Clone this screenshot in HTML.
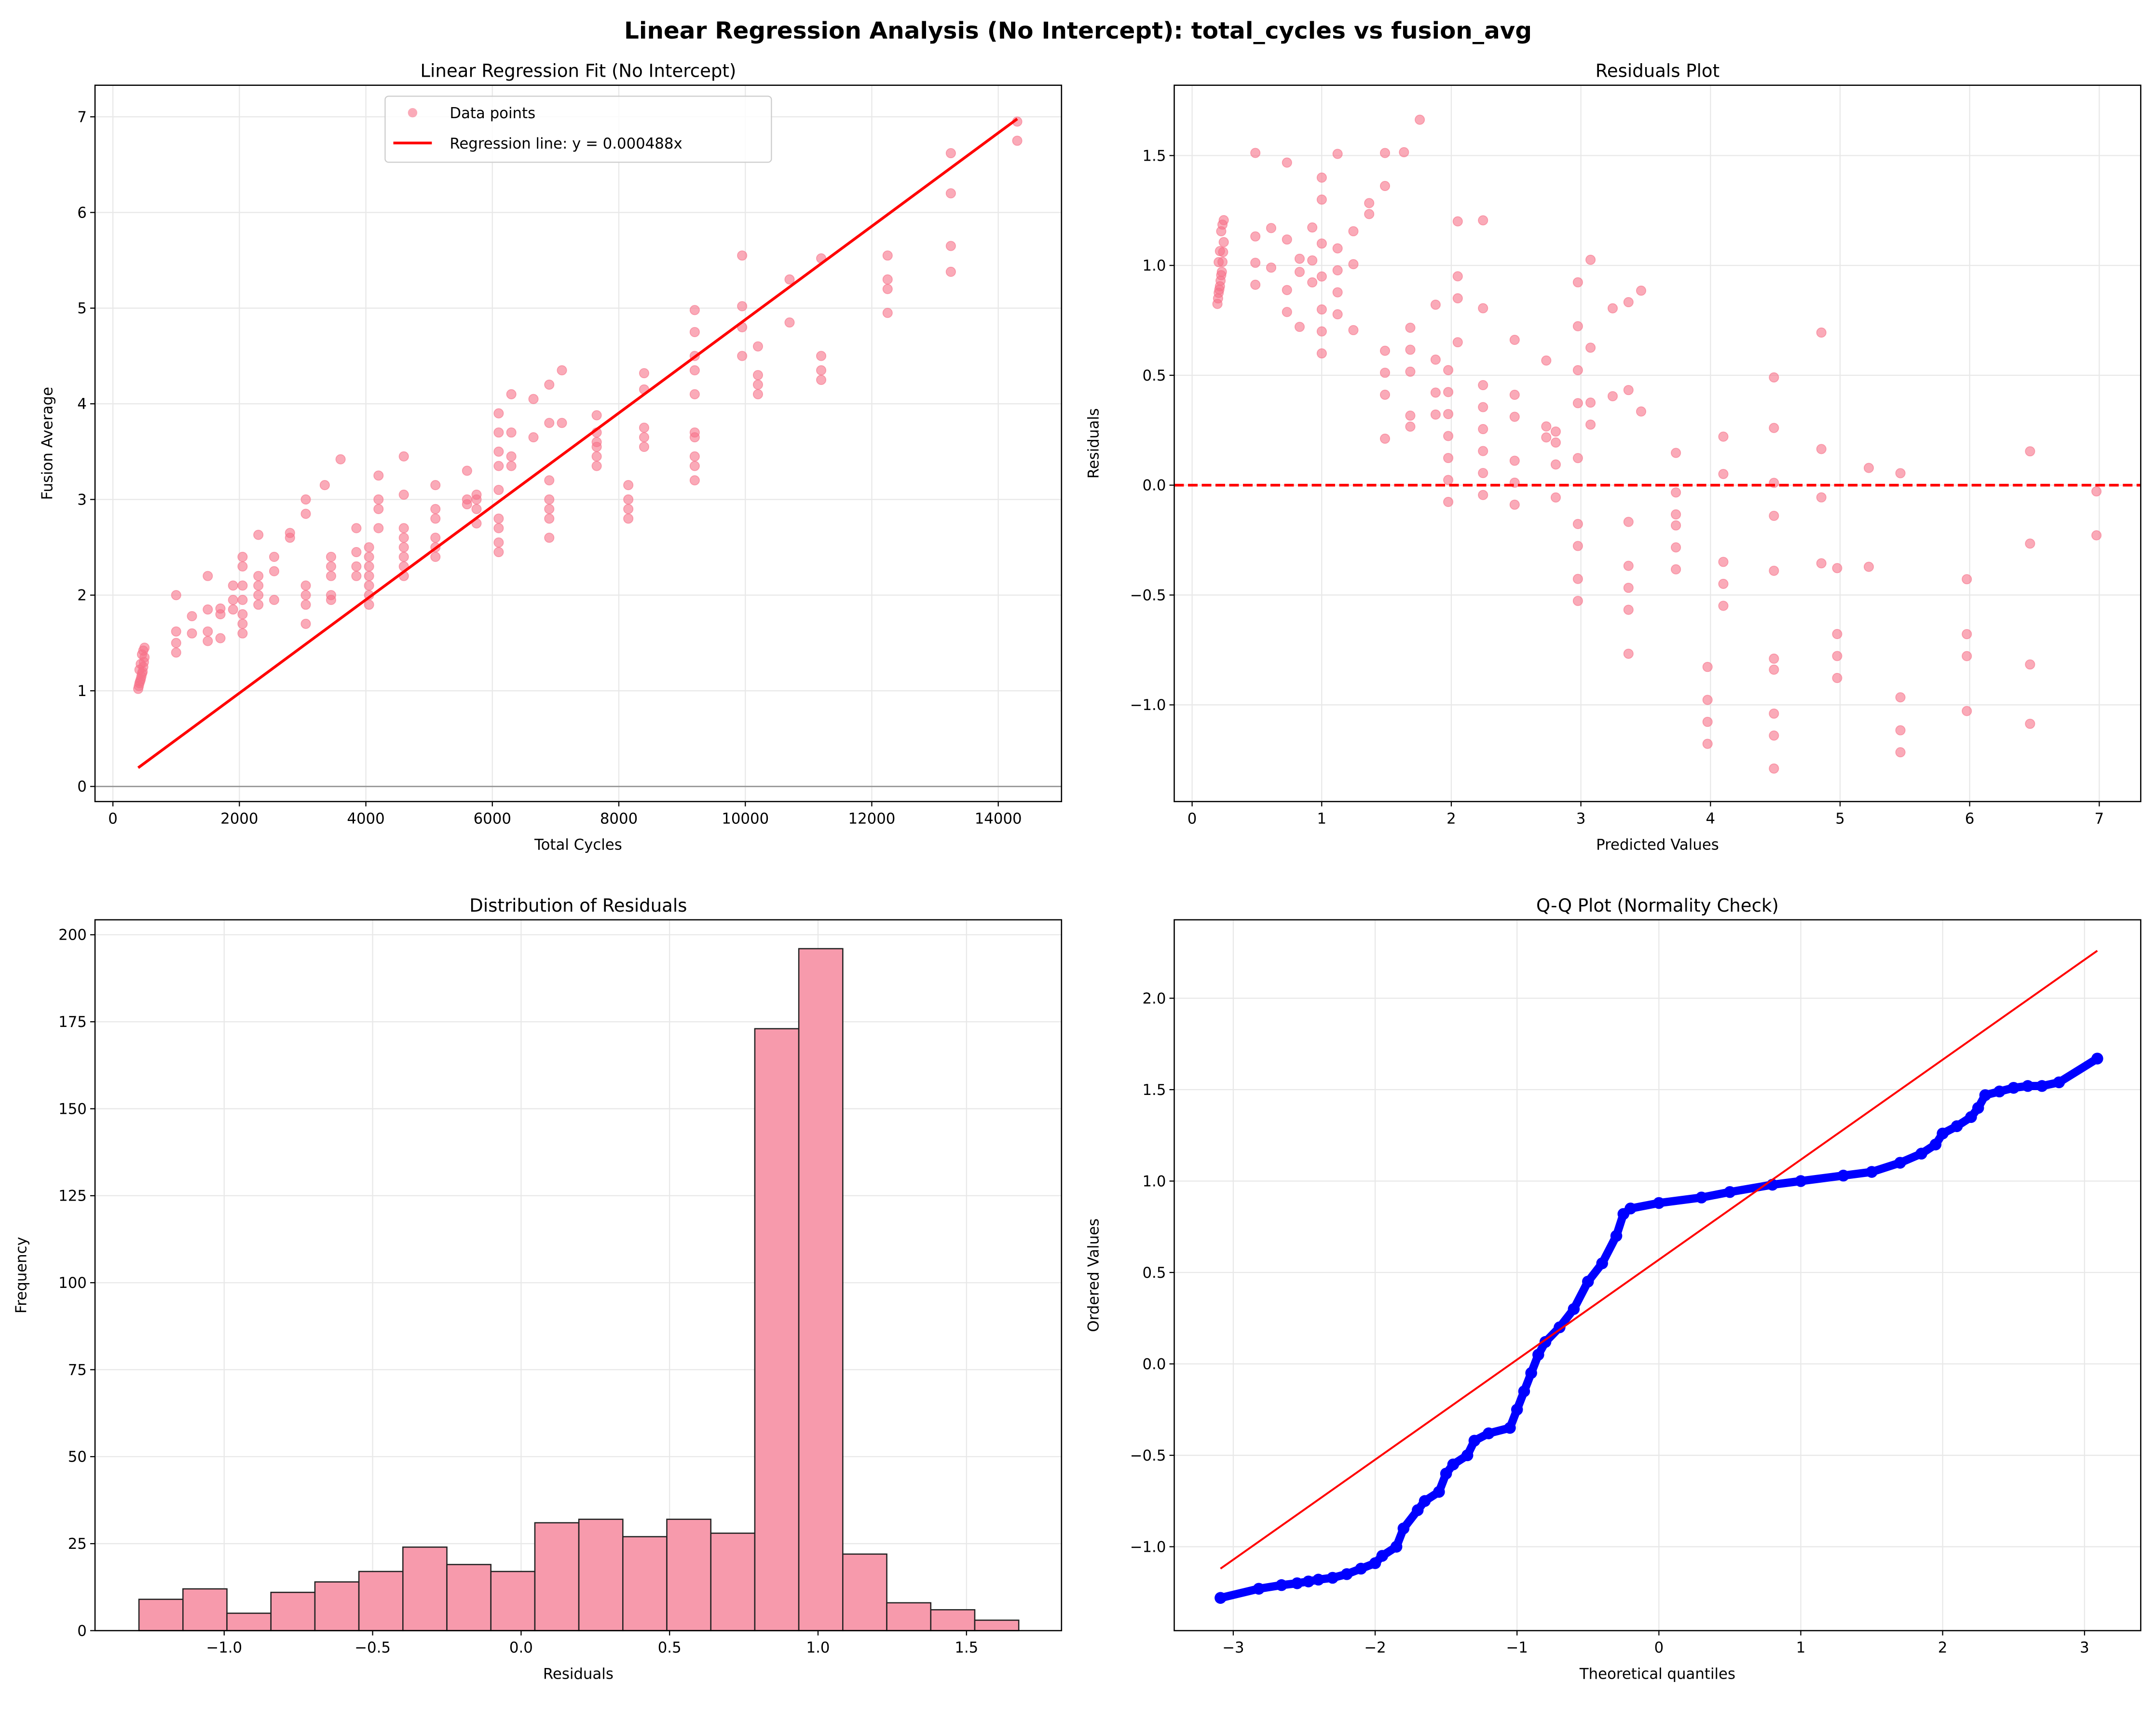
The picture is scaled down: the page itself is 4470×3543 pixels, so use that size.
<!DOCTYPE html>
<html><head><meta charset="utf-8">
<style>
html,body{margin:0;padding:0;background:#fff;}
svg{display:block;font-family:"DejaVu Sans","Liberation Sans",sans-serif;}
</style></head>
<body>
<svg id="fig" width="4470" height="3543" viewBox="0 0 1568 1243" xmlns="http://www.w3.org/2000/svg">
<rect x="0" y="0" width="1568" height="1243" fill="#fff"/>
<text x="784" y="28" text-anchor="middle" font-size="17" font-weight="bold">Linear Regression Analysis (No Intercept): total_cycles vs fusion_avg</text>
</svg>
<script>
// ---------- data ----------
const cycleValues = [400,410,420,430,440,450,460,470,480,490,500,420,440,460,480,500,
 1000,1000,1000,1000,1250,1250,1500,1500,1500,1500,1700,1700,1700,1900,1900,1900,
 2050,2050,2050,2050,2050,2050,2050,2300,2300,2300,2300,2300,2550,2550,2550,2800,2800,
 3050,3050,3050,3050,3050,3050,3350,3450,3450,3450,3450,3450,3600,3850,3850,3850,3850,
 4050,4050,4050,4050,4050,4050,4050,4200,4200,4200,4200,4600,4600,4600,4600,4600,4600,4600,4600,
 5100,5100,5100,5100,5100,5100,5600,5600,5600,5750,5750,5750,5750,
 6100,6100,6100,6100,6100,6100,6100,6100,6100,6300,6300,6300,6300,6650,6650,
 6900,6900,6900,6900,6900,6900,6900,7100,7100,7650,7650,7650,7650,7650,7650,
 8150,8150,8150,8150,8400,8400,8400,8400,8400,
 9200,9200,9200,9200,9200,9200,9200,9200,9200,9200,9950,9950,9950,9950,10200,10200,10200,10200,
 10700,10700,11200,11200,11200,11200,12250,12250,12250,12250,13250,13250,13250,13250,14300,14300];
const fusionValues = [1.02,1.05,1.08,1.1,1.12,1.15,1.18,1.2,1.25,1.3,1.35,1.22,1.28,1.38,1.42,1.45,
 1.4,1.5,1.62,2.0,1.6,1.78,1.52,1.62,1.85,2.2,1.55,1.8,1.86,1.85,1.95,2.1,
 1.6,1.7,1.8,1.95,2.1,2.3,2.4,1.9,2.0,2.1,2.2,2.63,1.95,2.25,2.4,2.6,2.65,
 1.7,1.9,2.0,2.1,2.85,3.0,3.15,1.95,2.0,2.2,2.3,2.4,3.42,2.2,2.3,2.45,2.7,
 1.9,2.0,2.1,2.2,2.3,2.4,2.5,2.7,2.9,3.0,3.25,2.2,2.3,2.4,2.5,2.6,2.7,3.05,3.45,
 2.4,2.5,2.6,2.8,2.9,3.15,2.95,3.0,3.3,2.75,2.9,3.0,3.05,
 2.45,2.55,2.7,2.8,3.1,3.35,3.5,3.7,3.9,3.35,3.45,3.7,4.1,3.65,4.05,
 2.6,2.8,2.9,3.0,3.2,3.8,4.2,3.8,4.35,3.35,3.45,3.55,3.6,3.7,3.88,
 2.8,2.9,3.0,3.15,3.55,3.65,3.75,4.15,4.32,
 3.2,3.35,3.45,3.65,3.7,4.1,4.35,4.5,4.75,4.98,4.5,4.8,5.02,5.55,4.1,4.2,4.3,4.6,
 4.85,5.3,4.25,4.35,4.5,5.52,4.95,5.2,5.3,5.55,5.38,5.65,6.2,6.62,6.75,6.95];
const slope = 0.000488;
const histCounts = [9,12,5,11,14,17,24,19,17,31,32,27,32,28,173,196,22,8,6,3];
const histMin = -1.287, histMax = 1.676;
const qqTheoretical = [-3.09,-2.82,-2.66,-2.55,-2.47,-2.40,-2.3,-2.2,-2.1,-2.0,-1.95,-1.85,-1.8,-1.7,-1.65,-1.55,-1.5,-1.45,-1.35,-1.3,-1.2,-1.05,-1.0,-0.95,-0.9,-0.85,-0.8,-0.7,-0.6,-0.5,-0.4,-0.3,-0.25,-0.2,0,0.3,0.5,0.8,1.0,1.3,1.5,1.7,1.85,1.95,2.0,2.1,2.2,2.25,2.3,2.4,2.5,2.6,2.7,2.82,3.09];
const qqOrdered = [-1.28,-1.23,-1.21,-1.20,-1.19,-1.18,-1.17,-1.15,-1.12,-1.09,-1.05,-1.0,-0.9,-0.8,-0.75,-0.7,-0.6,-0.55,-0.5,-0.42,-0.38,-0.35,-0.25,-0.15,-0.05,0.05,0.12,0.2,0.3,0.45,0.55,0.7,0.82,0.85,0.88,0.91,0.94,0.98,1.0,1.03,1.05,1.1,1.15,1.2,1.26,1.3,1.35,1.4,1.47,1.49,1.51,1.52,1.52,1.54,1.67];
const qqLineX = [-3.09,3.09];
const qqLineY = [-1.12,2.26];
const ticks1X = [0,2000,4000,6000,8000,10000,12000,14000];
const ticks1Y = [0,1,2,3,4,5,6,7];
const ticks2X = [0,1,2,3,4,5,6,7];
const ticks2Y = [-1.0,-0.5,0.0,0.5,1.0,1.5];
const ticks3X = [-1.0,-0.5,0.0,0.5,1.0,1.5];
const ticks3Y = [0,25,50,75,100,125,150,175,200];
const ticks4X = [-3,-2,-1,0,1,2,3];
const ticks4Y = [-1.0,-0.5,0.0,0.5,1.0,1.5,2.0];

// ---------- helpers ----------
const NS = "http://www.w3.org/2000/svg";
const svg = document.getElementById('fig');
const TF = 10.8;
function mk(tag, attrs, parent){
  const e = document.createElementNS(NS, tag);
  for (const k in attrs) e.setAttribute(k, attrs[k]);
  (parent||svg).appendChild(e);
  return e;
}
function fmt(v, dec){ const s = v.toFixed(dec); return s.replace('-', '\u2212'); }

function makeAxes(name, box, xd, yd, xt, yt, xdec, ydec, title, xlabel, ylabel, ylabX){
  const g = mk('g', {});
  
  
  const sx = v => box.x0 + (v - xd[0]) / (xd[1] - xd[0]) * (box.x1 - box.x0);
  const sy = v => box.y1 - (v - yd[0]) / (yd[1] - yd[0]) * (box.y1 - box.y0);
  xt.forEach(t => {
    const gl = mk('line', {x1:sx(t), x2:sx(t), y1:box.y0, y2:box.y1, stroke:'#e8e8e8', 'stroke-width':0.8}, g);
    
    
    const tk = mk('line', {x1:sx(t), x2:sx(t), y1:box.y1, y2:box.y1+3.5, stroke:'#000', 'stroke-width':0.8}, g);
    
    
    const tl = mk('text', {x:sx(t), y:box.y1+16, 'text-anchor':'middle', 'font-size':TF}, g);
    tl.textContent = fmt(t, xdec);
    
    
  });
  yt.forEach(t => {
    const gl = mk('line', {x1:box.x0, x2:box.x1, y1:sy(t), y2:sy(t), stroke:'#e8e8e8', 'stroke-width':0.8}, g);
    
    
    const tk = mk('line', {x1:box.x0-3.5, x2:box.x0, y1:sy(t), y2:sy(t), stroke:'#000', 'stroke-width':0.8}, g);
    
    
    const tl = mk('text', {x:box.x0-6, y:sy(t)+3.8, 'text-anchor':'end', 'font-size':TF}, g);
    tl.textContent = fmt(t, ydec);
    
    
  });
  const tt = mk('text', {x:(box.x0+box.x1)/2, y:box.y0-6, 'text-anchor':'middle', 'font-size':13}, g);
  tt.textContent = title;
  
  
  const xl = mk('text', {x:(box.x0+box.x1)/2, y:box.y1+35, 'text-anchor':'middle', 'font-size':TF}, g);
  xl.textContent = xlabel;
  
  
  const yc = (box.y0+box.y1)/2;
  const yl = mk('text', {x:ylabX, y:yc, 'text-anchor':'middle', 'font-size':TF, transform:`rotate(-90 ${ylabX} ${yc})`}, g);
  yl.textContent = ylabel;
  
  
  const plot = mk('g', {}, g);
  
  
  return {g, plot, sx, sy, box};
}
function frame(ax){
  const f = mk('rect', {x:ax.box.x0, y:ax.box.y0, width:ax.box.x1-ax.box.x0, height:ax.box.y1-ax.box.y0, fill:'none', stroke:'#000', 'stroke-width':0.9}, ax.g);
  
  
}

// ---------- panel 1 ----------
const a1 = makeAxes('regression-fit-panel', {x0:69,x1:772,y0:62,y1:583}, [-283,15000], [-0.158,7.33], ticks1X, ticks1Y, 0, 0,
  'Linear Regression Fit (No Intercept)', 'Total Cycles', 'Fusion Average', 38);
const zl = mk('line', {x1:69, x2:772, y1:a1.sy(0), y2:a1.sy(0), stroke:'#999', 'stroke-width':1}, a1.plot);


cycleValues.forEach((cx, i) => {
  const c = mk('circle', {cx:a1.sx(cx), cy:a1.sy(fusionValues[i]), r:3.4, fill:'#f77189', 'fill-opacity':0.6, stroke:'#f77189', 'stroke-opacity':0.6, 'stroke-width':0.6}, a1.plot);
  
  
});
const xmn = Math.min(...cycleValues), xmx = Math.max(...cycleValues);
const rl = mk('line', {x1:a1.sx(xmn), y1:a1.sy(slope*xmn), x2:a1.sx(xmx), y2:a1.sy(slope*xmx), stroke:'#ff0000', 'stroke-width':2}, a1.plot);


frame(a1);
const lg = mk('g', {}, a1.g);


mk('rect', {x:280, y:70, width:281, height:48, rx:2.5, fill:'#fff', 'fill-opacity':0.8, stroke:'#ccc', 'stroke-width':0.8}, lg);
const ld = mk('circle', {cx:300, cy:82, r:3.4, fill:'#f77189', 'fill-opacity':0.6}, lg);


const lt1 = mk('text', {x:327, y:86, 'font-size':TF}, lg);
lt1.textContent = 'Data points';


const ll = mk('line', {x1:286, x2:314, y1:104, y2:104, stroke:'#ff0000', 'stroke-width':2}, lg);


const lt2 = mk('text', {x:327, y:108, 'font-size':TF}, lg);
lt2.textContent = 'Regression line: y = 0.000488x';



// ---------- panel 2 ----------
const a2 = makeAxes('residuals-panel', {x0:854,x1:1557,y0:62,y1:583}, [-0.138,7.32], [-1.44,1.82], ticks2X, ticks2Y, 0, 1,
  'Residuals Plot', 'Predicted Values', 'Residuals', 799);
cycleValues.forEach((cx, i) => {
  const p = slope*cx, r = fusionValues[i] - p;
  const c = mk('circle', {cx:a2.sx(p), cy:a2.sy(r), r:3.4, fill:'#f77189', 'fill-opacity':0.6, stroke:'#f77189', 'stroke-opacity':0.6, 'stroke-width':0.6}, a2.plot);
  
  
});
const z2 = mk('line', {x1:854, x2:1557, y1:a2.sy(0), y2:a2.sy(0), stroke:'#ff0000', 'stroke-width':2, 'stroke-dasharray':'7,3'}, a2.plot);


frame(a2);

// ---------- panel 3 ----------
const a3 = makeAxes('residual-histogram-panel', {x0:69,x1:772,y0:669,y1:1186}, [-1.435,1.82], [0,204.3], ticks3X, ticks3Y, 1, 0,
  'Distribution of Residuals', 'Residuals', 'Frequency', 19);
const bw = (histMax - histMin) / histCounts.length;
histCounts.forEach((c, i) => {
  const x0 = a3.sx(histMin + i*bw), x1 = a3.sx(histMin + (i+1)*bw);
  const b = mk('rect', {x:x0, y:a3.sy(c), width:x1-x0, height:a3.sy(0)-a3.sy(c), fill:'#f79aac', stroke:'#222', 'stroke-width':0.9}, a3.plot);
  
  
});
frame(a3);

// ---------- panel 4 ----------
const a4 = makeAxes('qq-plot-panel', {x0:854,x1:1557,y0:669,y1:1186}, [-3.416,3.396], [-1.459,2.429], ticks4X, ticks4Y, 0, 1,
  'Q-Q Plot (Normality Check)', 'Theoretical quantiles', 'Ordered Values', 799);
const qpts = qqTheoretical.map((t,i) => `${a4.sx(t)},${a4.sy(qqOrdered[i])}`).join(' ');
const qpl = mk('polyline', {points:qpts, fill:'none', stroke:'#0000ff', 'stroke-width':6, 'stroke-linecap':'round', 'stroke-linejoin':'round'}, a4.plot);


qqTheoretical.forEach((t, i) => {
  const c = mk('circle', {cx:a4.sx(t), cy:a4.sy(qqOrdered[i]), r:4.3, fill:'#0000ff'}, a4.plot);
  
  
});
const ql = mk('line', {x1:a4.sx(qqLineX[0]), y1:a4.sy(qqLineY[0]), x2:a4.sx(qqLineX[1]), y2:a4.sy(qqLineY[1]), stroke:'#ff0000', 'stroke-width':1.4}, a4.plot);


frame(a4);
</script>
</body></html>
